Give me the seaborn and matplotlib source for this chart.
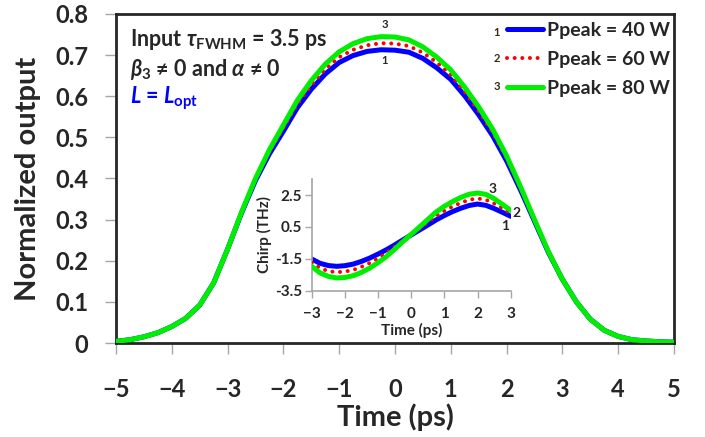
import numpy as np
import pandas as pd
import matplotlib
matplotlib.use("Agg")
import matplotlib.pyplot as plt
import seaborn as sns

# main pulse, time axis (ps)
time = [-5.0, -4.75, -4.5, -4.25, -4.0, -3.75, -3.5, -3.25, -3.0, -2.75, -2.5, -2.25, -2.0,
        -1.75, -1.5, -1.25, -1.0, -0.75, -0.5, -0.25, 0.0, 0.25, 0.5, 0.75, 1.0, 1.25, 1.5,
        1.75, 2.0, 2.25, 2.5, 2.75, 3.0, 3.25, 3.5, 3.75, 4.0, 4.25, 4.5, 4.75, 5.0]

out_40 = [0.004, 0.008, 0.015, 0.025, 0.040, 0.060, 0.092, 0.146, 0.228, 0.316, 0.395, 0.460, 0.515,
          0.572, 0.617, 0.654, 0.682, 0.699, 0.709, 0.713, 0.712, 0.707, 0.692, 0.669, 0.641, 0.601, 0.555,
          0.504, 0.443, 0.372, 0.296, 0.220, 0.155, 0.100, 0.058, 0.031, 0.016, 0.008, 0.005, 0.003, 0.002]
out_60 = [0.004, 0.008, 0.015, 0.025, 0.040, 0.060, 0.092, 0.146, 0.228, 0.317, 0.397, 0.465, 0.522,
          0.581, 0.627, 0.666, 0.695, 0.713, 0.724, 0.729, 0.728, 0.722, 0.706, 0.682, 0.652, 0.611, 0.564,
          0.512, 0.449, 0.376, 0.298, 0.221, 0.155, 0.100, 0.058, 0.031, 0.016, 0.008, 0.005, 0.003, 0.002]
out_80 = [0.004, 0.008, 0.015, 0.025, 0.040, 0.060, 0.092, 0.146, 0.228, 0.318, 0.400, 0.470, 0.530,
          0.590, 0.638, 0.678, 0.708, 0.728, 0.740, 0.745, 0.744, 0.737, 0.720, 0.695, 0.664, 0.622, 0.574,
          0.520, 0.455, 0.380, 0.300, 0.222, 0.155, 0.100, 0.058, 0.031, 0.016, 0.008, 0.005, 0.003, 0.002]

# inset chirp (THz)
time_c = [-3.0, -2.75, -2.5, -2.25, -2.0, -1.75, -1.5, -1.25, -1.0, -0.75, -0.5, -0.25, 0.0,
          0.25, 0.5, 0.75, 1.0, 1.25, 1.5, 1.75, 2.0, 2.25, 2.5, 2.75, 3.0]
chirp_40 = [-1.51, -1.78, -1.92, -1.97, -1.93, -1.83, -1.66, -1.45, -1.20, -0.93, -0.63, -0.31, 0.00,
            0.31, 0.62, 0.94, 1.22, 1.47, 1.68, 1.85, 1.94, 1.86, 1.66, 1.42, 1.17]
chirp_60 = [-1.74, -2.08, -2.27, -2.34, -2.30, -2.20, -2.00, -1.76, -1.46, -1.14, -0.76, -0.36, 0.02,
            0.41, 0.80, 1.19, 1.51, 1.79, 2.02, 2.21, 2.29, 2.21, 1.97, 1.67, 1.35]
chirp_80 = [-1.97, -2.38, -2.60, -2.70, -2.67, -2.56, -2.35, -2.08, -1.74, -1.36, -0.90, -0.42, 0.04,
            0.50, 0.97, 1.44, 1.80, 2.10, 2.36, 2.56, 2.63, 2.55, 2.28, 1.92, 1.54]

labels = ["Ppeak = 40 W", "Ppeak = 60 W", "Ppeak = 80 W"]
colors = ["#0000ff", "#ff0000", "#00ee00"]

sns.set_theme(style="white")
plt.rcParams["font.family"] = ["Lato", "DejaVu Sans"]
plt.rcParams["font.weight"] = "bold"
plt.rcParams["mathtext.fontset"] = "custom"
plt.rcParams["mathtext.rm"] = "Lato:bold"
plt.rcParams["mathtext.bf"] = "Lato:bold"
plt.rcParams["mathtext.it"] = "Lato:italic:bold"
plt.rcParams["mathtext.fallback"] = "stixsans"

fig = plt.figure(figsize=(7.05, 4.37), dpi=100)
ax = fig.add_axes([0.1645, 0.2151, 0.7915, 0.7529])

def draw(a, x, ys, lw):
    lines = []
    for y, c, lab in zip(ys, colors, labels):
        if c == "#ff0000":
            sns.lineplot(x=x, y=y, ax=a, color=c, lw=lw * 0.8, linestyle=(0, (0.01, 1.9)),
                         dash_capstyle="round", label=lab, zorder=3)
        else:
            sns.lineplot(x=x, y=y, ax=a, color=c, lw=lw, label=lab,
                         zorder=2 if c == "#0000ff" else 4)
        lines.append(a.get_lines()[-1])
    return lines

main_lines = draw(ax, time, [out_40, out_60, out_80], 3.6)

ax.set_xlim(-5, 5)
ax.set_ylim(0, 0.8)
ax.set_xticks(range(-5, 6))
ax.set_yticks(np.arange(0, 0.81, 0.1))
ax.set_yticklabels(["0"] + [f"{v:.1f}" for v in np.arange(0.1, 0.81, 0.1)])
ax.tick_params(axis="both", which="both", direction="out", length=8, width=1, color="#a6a6a6",
               labelsize=17, bottom=True, left=True)
ax.tick_params(axis="y", pad=12)
ax.tick_params(axis="x", pad=17)
for s in ax.spines.values():
    s.set_color("#262626")
    s.set_linewidth(2)
ax.set_xlabel("Time (ps)", fontsize=21, fontweight="bold", labelpad=2)
ax.set_ylabel("Normalized output", fontsize=21, fontweight="bold", labelpad=10)

ax.legend(main_lines, labels, loc="upper left", bbox_to_anchor=(507 / 705, 1 - 22 / 437),
          bbox_transform=fig.transFigure, frameon=False, fontsize=14, handlelength=1.85,
          handletextpad=0.2, borderpad=0, borderaxespad=0, labelspacing=0.62)
for i, yy in enumerate([33, 59, 86]):
    fig.text(497 / 705, 1 - yy / 437, str(i + 1), fontsize=8, fontweight="bold",
             ha="center", va="center", color="#3a2a10")

fig.text(385 / 705, 1 - 24 / 437, "3", fontsize=8, fontweight="bold", ha="center", va="center")
fig.text(385 / 705, 1 - 60 / 437, "1", fontsize=8, fontweight="bold", ha="center", va="center")

fig.text(130 / 705, 1 - 40 / 437, r"Input $\tau_{\mathrm{FWHM}}$ = 3.5 ps", fontsize=15.5,
         fontweight="bold", ha="left", va="center")
fig.text(130 / 705, 1 - 69 / 437, r"$\beta_3$ ≠ 0 and $\alpha$ ≠ 0", fontsize=15.5,
         fontweight="bold", ha="left", va="center")
fig.text(130 / 705, 1 - 98 / 437, r"$L$ = $L_{\mathrm{opt}}$", fontsize=15.5,
         fontweight="bold", ha="left", va="center", color="#0000ff")

# inset
ins = fig.add_axes([311.7 / 705, 1 - 290.7 / 437, 199 / 705, 111.5 / 437])
ins.patch.set_alpha(0)
draw(ins, time_c, [chirp_40, chirp_60, chirp_80], 3.6)
if ins.get_legend():
    ins.get_legend().remove()
ins.set_xlim(-3, 3)
ins.set_ylim(-3.5, 3.5)
ins.set_xticks(range(-3, 4))
ins.set_yticks([-3.5, -1.5, 0.5, 2.5])
ins.set_yticklabels(["-3.5", "-1.5", "0.5", "2.5"])
ins.tick_params(axis="both", direction="out", length=5, width=1, color="#a6a6a6", labelsize=11,
                bottom=True, left=True)
ins.tick_params(axis="x", pad=7)
ins.tick_params(axis="y", pad=2)
for k in ["top", "right"]:
    ins.spines[k].set_visible(False)
for k in ["left", "bottom"]:
    ins.spines[k].set_color("#a6a6a6")
    ins.spines[k].set_linewidth(1.2)
ins.set_xlabel("Time (ps)", fontsize=11, fontweight="bold", labelpad=1)
ins.set_ylabel("Chirp (THz)", fontsize=11, fontweight="bold", labelpad=2)

fig.text(493 / 705, 1 - 189 / 437, "3", fontsize=10, fontweight="bold", ha="center", va="center")
fig.text(517 / 705, 1 - 213 / 437, "2", fontsize=10, fontweight="bold", ha="center", va="center")
fig.text(505 / 705, 1 - 226 / 437, "1", fontsize=10, fontweight="bold", ha="center", va="center")

fig.savefig("out.png", dpi=100)
